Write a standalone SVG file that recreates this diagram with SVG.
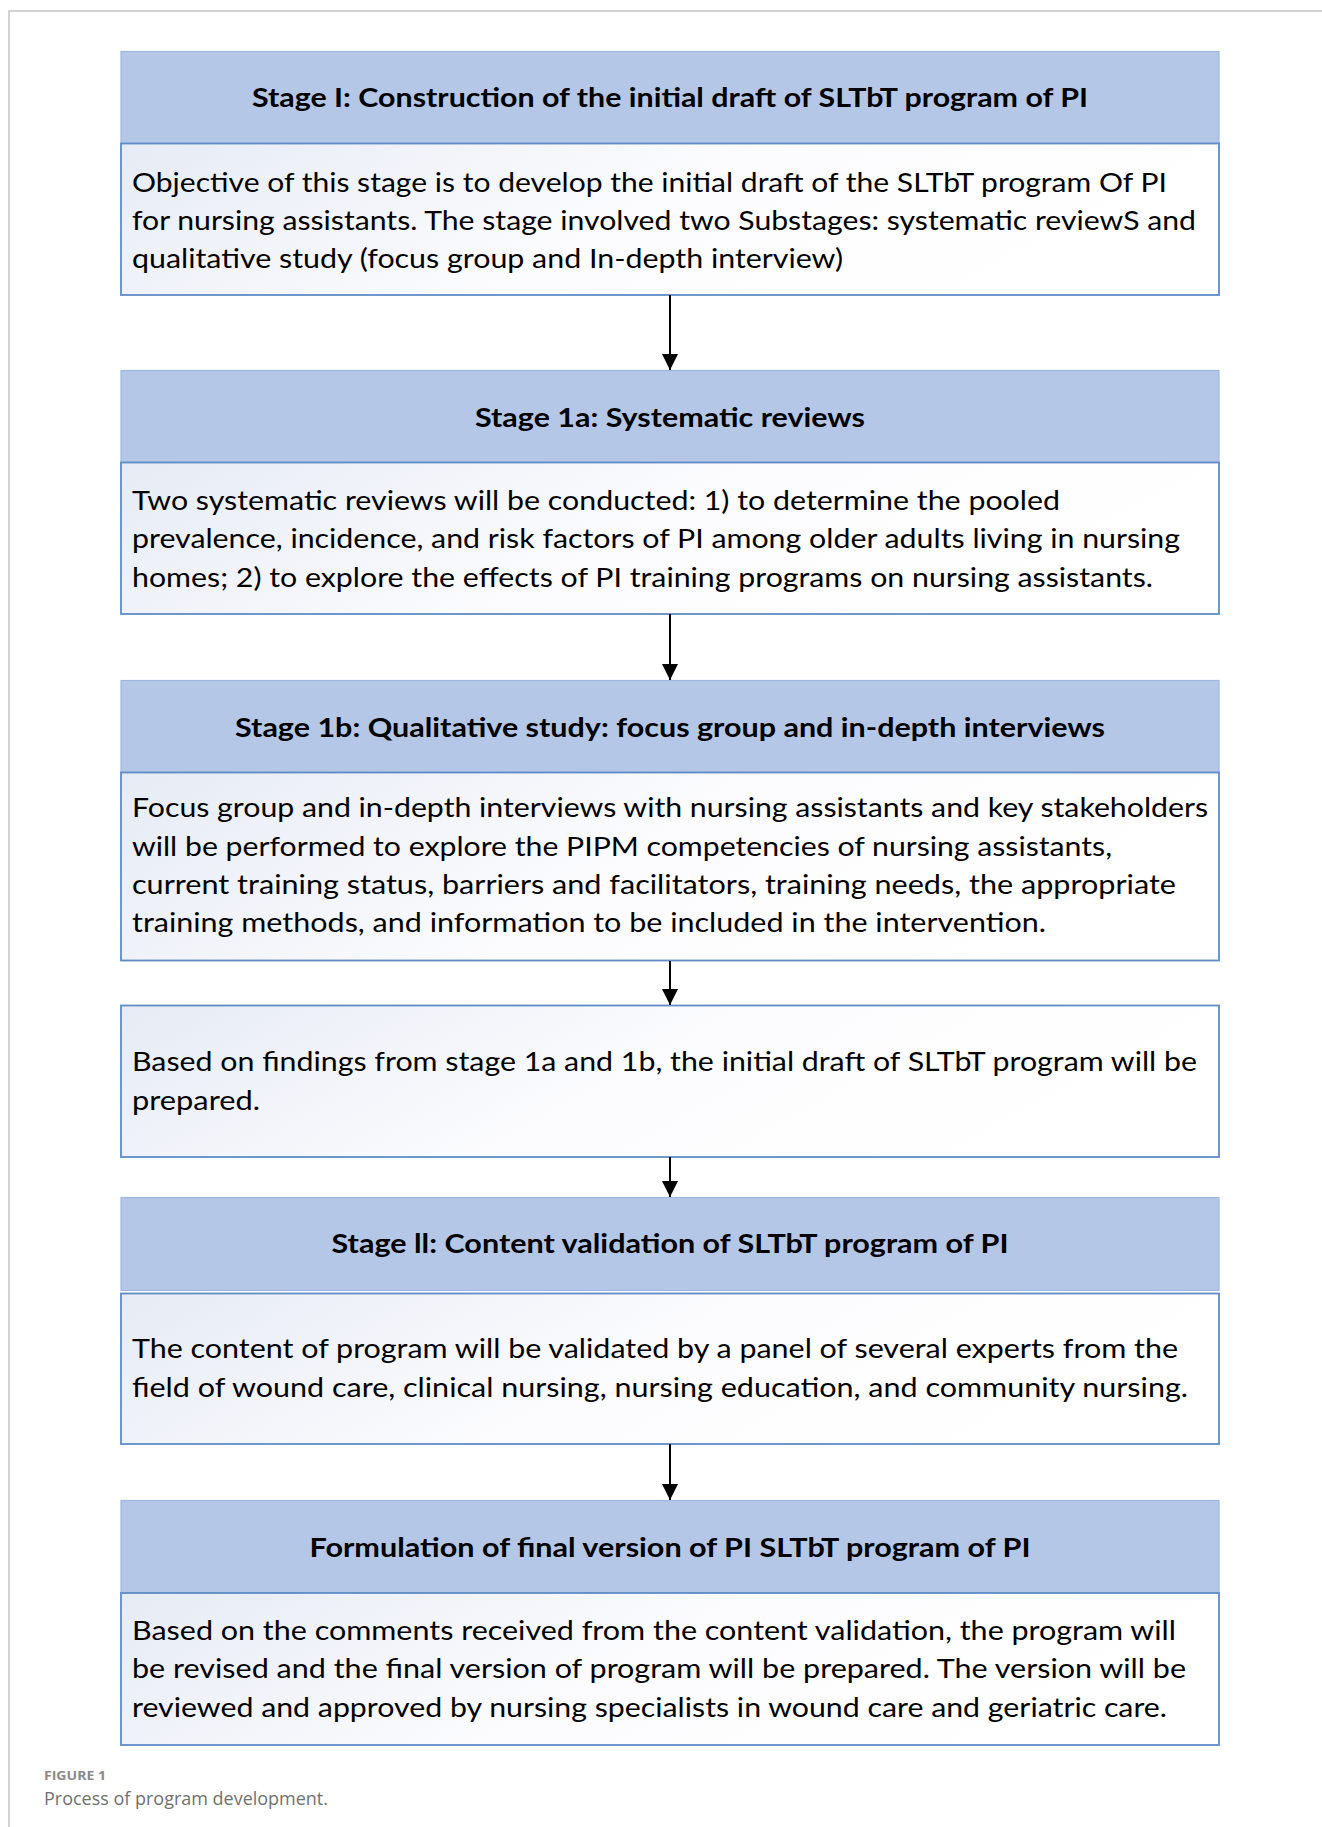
<svg xmlns="http://www.w3.org/2000/svg" width="1322" height="1827" viewBox="0 0 1322 1827">
<style>
.frame{fill:none;stroke:#c4c4c4;stroke-width:1.5}
.hdr{fill:#b4c7e7;stroke:#9fb6de;stroke-width:1.2}
.bod{fill:url(#bg);stroke:#5f8cc6;stroke-width:1.8}
.ht{font-family:Lato,"Liberation Sans",sans-serif;font-weight:700;font-size:27.5px;fill:#000;text-anchor:middle}
.bt{font-family:Lato,"Liberation Sans",sans-serif;font-size:27.5px;fill:#000}
.conn{stroke:#000;stroke-width:2;fill:none}
.cap1{font-family:"Open Sans","Liberation Sans",sans-serif;font-weight:700;font-size:13px;fill:#8a8a8a}
.cap2{font-family:"Open Sans","Liberation Sans",sans-serif;font-size:17.5px;fill:#707070}
</style>
<defs>
<linearGradient id="bg" x1="0" y1="0" x2="1" y2="0.25">
<stop offset="0" stop-color="#e6ebf5"/>
<stop offset="0.55" stop-color="#fcfcfe"/>
<stop offset="1" stop-color="#ffffff"/>
</linearGradient>
<marker id="ah" markerWidth="16" markerHeight="16" refX="16" refY="8" orient="auto" markerUnits="userSpaceOnUse">
<path d="M0,0 L16,8 L0,16 Z" fill="#000"/>
</marker>
</defs>
<rect width="1322" height="1827" fill="#fff"/>
<path class="frame" d="M9,1827 V11 H1322"/>

<g id="stage1">
<rect class="hdr" x="121" y="51.5" width="1098" height="92"/>
<rect class="bod" x="121" y="143.5" width="1098" height="151.5"/>
<text class="ht" x="670" y="107" textLength="836" lengthAdjust="spacingAndGlyphs">Stage I: Construction of the initial draft of SLTbT program of PI</text>
<text class="bt" x="132" y="192" textLength="1035" lengthAdjust="spacingAndGlyphs">Objective of this stage is to develop the initial draft of the SLTbT program Of PI</text>
<text class="bt" x="132" y="230" textLength="1064" lengthAdjust="spacingAndGlyphs">for nursing assistants. The stage involved two Substages: systematic reviewS and</text>
<text class="bt" x="132" y="268" textLength="711" lengthAdjust="spacingAndGlyphs">qualitative study (focus group and In-depth interview)</text>
</g>

<g id="stage1a">
<rect class="hdr" x="121" y="370.5" width="1098" height="92"/>
<rect class="bod" x="121" y="462.5" width="1098" height="151.5"/>
<text class="ht" x="670" y="427" textLength="390" lengthAdjust="spacingAndGlyphs">Stage 1a: Systematic reviews</text>
<text class="bt" x="132" y="510" textLength="928" lengthAdjust="spacingAndGlyphs">Two systematic reviews will be conducted: 1) to determine the pooled</text>
<text class="bt" x="132" y="548" textLength="1048" lengthAdjust="spacingAndGlyphs">prevalence, incidence, and risk factors of PI among older adults living in nursing</text>
<text class="bt" x="132" y="587" textLength="1021" lengthAdjust="spacingAndGlyphs">homes; 2) to explore the effects of PI training programs on nursing assistants.</text>
</g>

<g id="stage1b">
<rect class="hdr" x="121" y="680.5" width="1098" height="92"/>
<rect class="bod" x="121" y="772.5" width="1098" height="188"/>
<text class="ht" x="670" y="737" textLength="870" lengthAdjust="spacingAndGlyphs">Stage 1b: Qualitative study: focus group and in-depth interviews</text>
<text class="bt" x="132" y="817" textLength="1076" lengthAdjust="spacingAndGlyphs">Focus group and in-depth interviews with nursing assistants and key stakeholders</text>
<text class="bt" x="132" y="856" textLength="980" lengthAdjust="spacingAndGlyphs">will be performed to explore the PIPM competencies of nursing assistants,</text>
<text class="bt" x="132" y="894" textLength="1044" lengthAdjust="spacingAndGlyphs">current training status, barriers and facilitators, training needs, the appropriate</text>
<text class="bt" x="132" y="932" textLength="914" lengthAdjust="spacingAndGlyphs">training methods, and information to be included in the intervention.</text>
</g>

<g id="draft">
<rect class="bod" x="121" y="1005.5" width="1098" height="151.5"/>
<text class="bt" x="132" y="1071" textLength="1065" lengthAdjust="spacingAndGlyphs">Based on findings from stage 1a and 1b, the initial draft of SLTbT program will be</text>
<text class="bt" x="132" y="1110" textLength="128" lengthAdjust="spacingAndGlyphs">prepared.</text>
</g>

<g id="stage2">
<rect class="hdr" x="121" y="1197.5" width="1098" height="93"/>
<rect class="bod" x="121" y="1293.5" width="1098" height="150.5"/>
<text class="ht" x="670" y="1253" textLength="677" lengthAdjust="spacingAndGlyphs">Stage ll: Content validation of SLTbT program of PI</text>
<text class="bt" x="132" y="1358" textLength="1046" lengthAdjust="spacingAndGlyphs">The content of program will be validated by a panel of several experts from the</text>
<text class="bt" x="132" y="1397" textLength="1056" lengthAdjust="spacingAndGlyphs">field of wound care, clinical nursing, nursing education, and community nursing.</text>
</g>

<g id="final">
<rect class="hdr" x="121" y="1500.5" width="1098" height="92.5"/>
<rect class="bod" x="121" y="1593" width="1098" height="152"/>
<text class="ht" x="670" y="1557" textLength="721" lengthAdjust="spacingAndGlyphs">Formulation of final version of PI SLTbT program of PI</text>
<text class="bt" x="132" y="1640" textLength="1044" lengthAdjust="spacingAndGlyphs">Based on the comments received from the content validation, the program will</text>
<text class="bt" x="132" y="1678" textLength="1054" lengthAdjust="spacingAndGlyphs">be revised and the final version of program will be prepared. The version will be</text>
<text class="bt" x="132" y="1717" textLength="1035" lengthAdjust="spacingAndGlyphs">reviewed and approved by nursing specialists in wound care and geriatric care.</text>
</g>

<g id="connectors">
<line class="conn" x1="670" y1="295" x2="670" y2="370" marker-end="url(#ah)"/>
<line class="conn" x1="670" y1="614" x2="670" y2="680" marker-end="url(#ah)"/>
<line class="conn" x1="670" y1="961" x2="670" y2="1005" marker-end="url(#ah)"/>
<line class="conn" x1="670" y1="1157" x2="670" y2="1197" marker-end="url(#ah)"/>
<line class="conn" x1="670" y1="1444" x2="670" y2="1500" marker-end="url(#ah)"/>
</g>

<g id="caption">
<text class="cap1" x="44" y="1780" textLength="62" lengthAdjust="spacingAndGlyphs">FIGURE 1</text>
<text class="cap2" x="44" y="1805" textLength="284" lengthAdjust="spacingAndGlyphs">Process of program development.</text>
</g>
</svg>
